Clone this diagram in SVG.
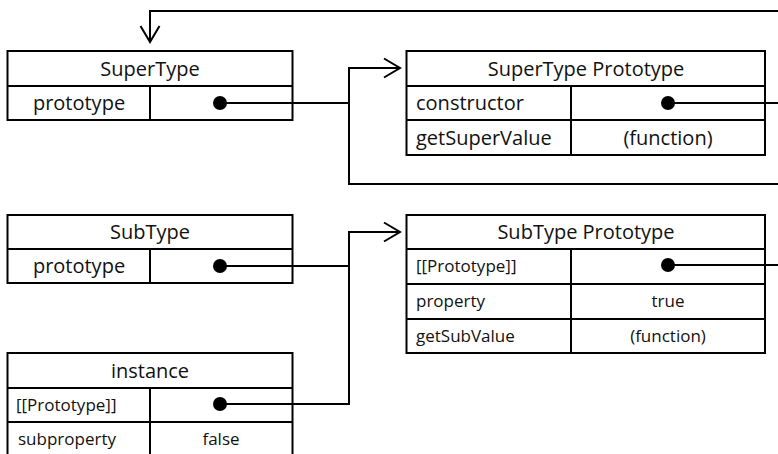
<svg xmlns="http://www.w3.org/2000/svg" width="778" height="454" viewBox="0 0 778 454">
<defs>
<marker id="arr" markerUnits="userSpaceOnUse" markerWidth="24" markerHeight="24" viewBox="-20 -12 24 24" refX="0" refY="0" orient="auto" overflow="visible">
<path d="M-16,-9.5 L0,0 L-16,9.5" fill="none" stroke="#000" stroke-width="2"/>
</marker>
</defs>
<style>
.box{fill:#fff;stroke:#000;stroke-width:2}
.ln{stroke:#000;stroke-width:2;fill:none}
.con{stroke:#000;stroke-width:2;fill:none}
.dot{fill:#000}
text{font-family:"Open Sans","Noto Sans","Liberation Sans",sans-serif;fill:#111}
.h{font-size:20px;text-anchor:middle}
.r{font-size:20px}
.s{font-size:17px}
.c{text-anchor:middle}
</style>
<g id="SuperType">
<rect class="box" x="7.5" y="51" width="285" height="69"/>
<path class="ln" d="M7.5,86 H292.5 M150,86 V120"/>
<text class="h" x="150" y="76">SuperType</text>
<text class="r c" x="79" y="110">prototype</text>
<circle class="dot" cx="220" cy="103" r="7"/>
</g>
<g id="SuperTypePrototype">
<rect class="box" x="406.5" y="51" width="358.5" height="104"/>
<path class="ln" d="M406.5,86 H765 M406.5,120 H765 M571,86 V155"/>
<text class="h" x="586" y="76">SuperType Prototype</text>
<text class="r" x="416" y="110">constructor</text>
<text class="r" x="416" y="145">getSuperValue</text>
<text class="r c" x="668" y="145">(function)</text>
<circle class="dot" cx="668" cy="103" r="7"/>
</g>
<g id="SubType">
<rect class="box" x="7.5" y="215" width="285" height="68"/>
<path class="ln" d="M7.5,249 H292.5 M150,249 V283"/>
<text class="h" x="150" y="239">SubType</text>
<text class="r c" x="79" y="273">prototype</text>
<circle class="dot" cx="220" cy="266" r="7"/>
</g>
<g id="SubTypePrototype">
<rect class="box" x="406.5" y="215" width="358.5" height="138"/>
<path class="ln" d="M406.5,249 H765 M406.5,284 H765 M406.5,319 H765 M571,249 V353"/>
<text class="h" x="586" y="239">SubType Prototype</text>
<text class="s" x="416" y="272">[[Prototype]]</text>
<text class="s" x="416" y="307">property</text>
<text class="s c" x="668" y="307">true</text>
<text class="s" x="416" y="342">getSubValue</text>
<text class="s c" x="668" y="342">(function)</text>
<circle class="dot" cx="668" cy="265" r="7"/>
</g>
<g id="instance">
<rect class="box" x="7.5" y="353" width="285" height="106"/>
<path class="ln" d="M7.5,388 H292.5 M7.5,422 H292.5 M150,388 V460"/>
<text class="h" x="150" y="378">instance</text>
<text class="s" x="16" y="411">[[Prototype]]</text>
<text class="s" x="18" y="445">subproperty</text>
<text class="s c" x="221" y="445">false</text>
<circle class="dot" cx="220" cy="404" r="7"/>
</g>
<g id="connectors">
<path class="con" d="M220,103 H349 V68 H400" marker-end="url(#arr)"/>
<path class="con" d="M668,103 H800 V11 H150 V42" marker-end="url(#arr)"/>
<path class="con" d="M668,265 H800 V184 H349 V68"/>
<path class="con" d="M220,266 H349 V232 H400" marker-end="url(#arr)"/>
<path class="con" d="M220,404 H349 V232"/>
</g>
</svg>
